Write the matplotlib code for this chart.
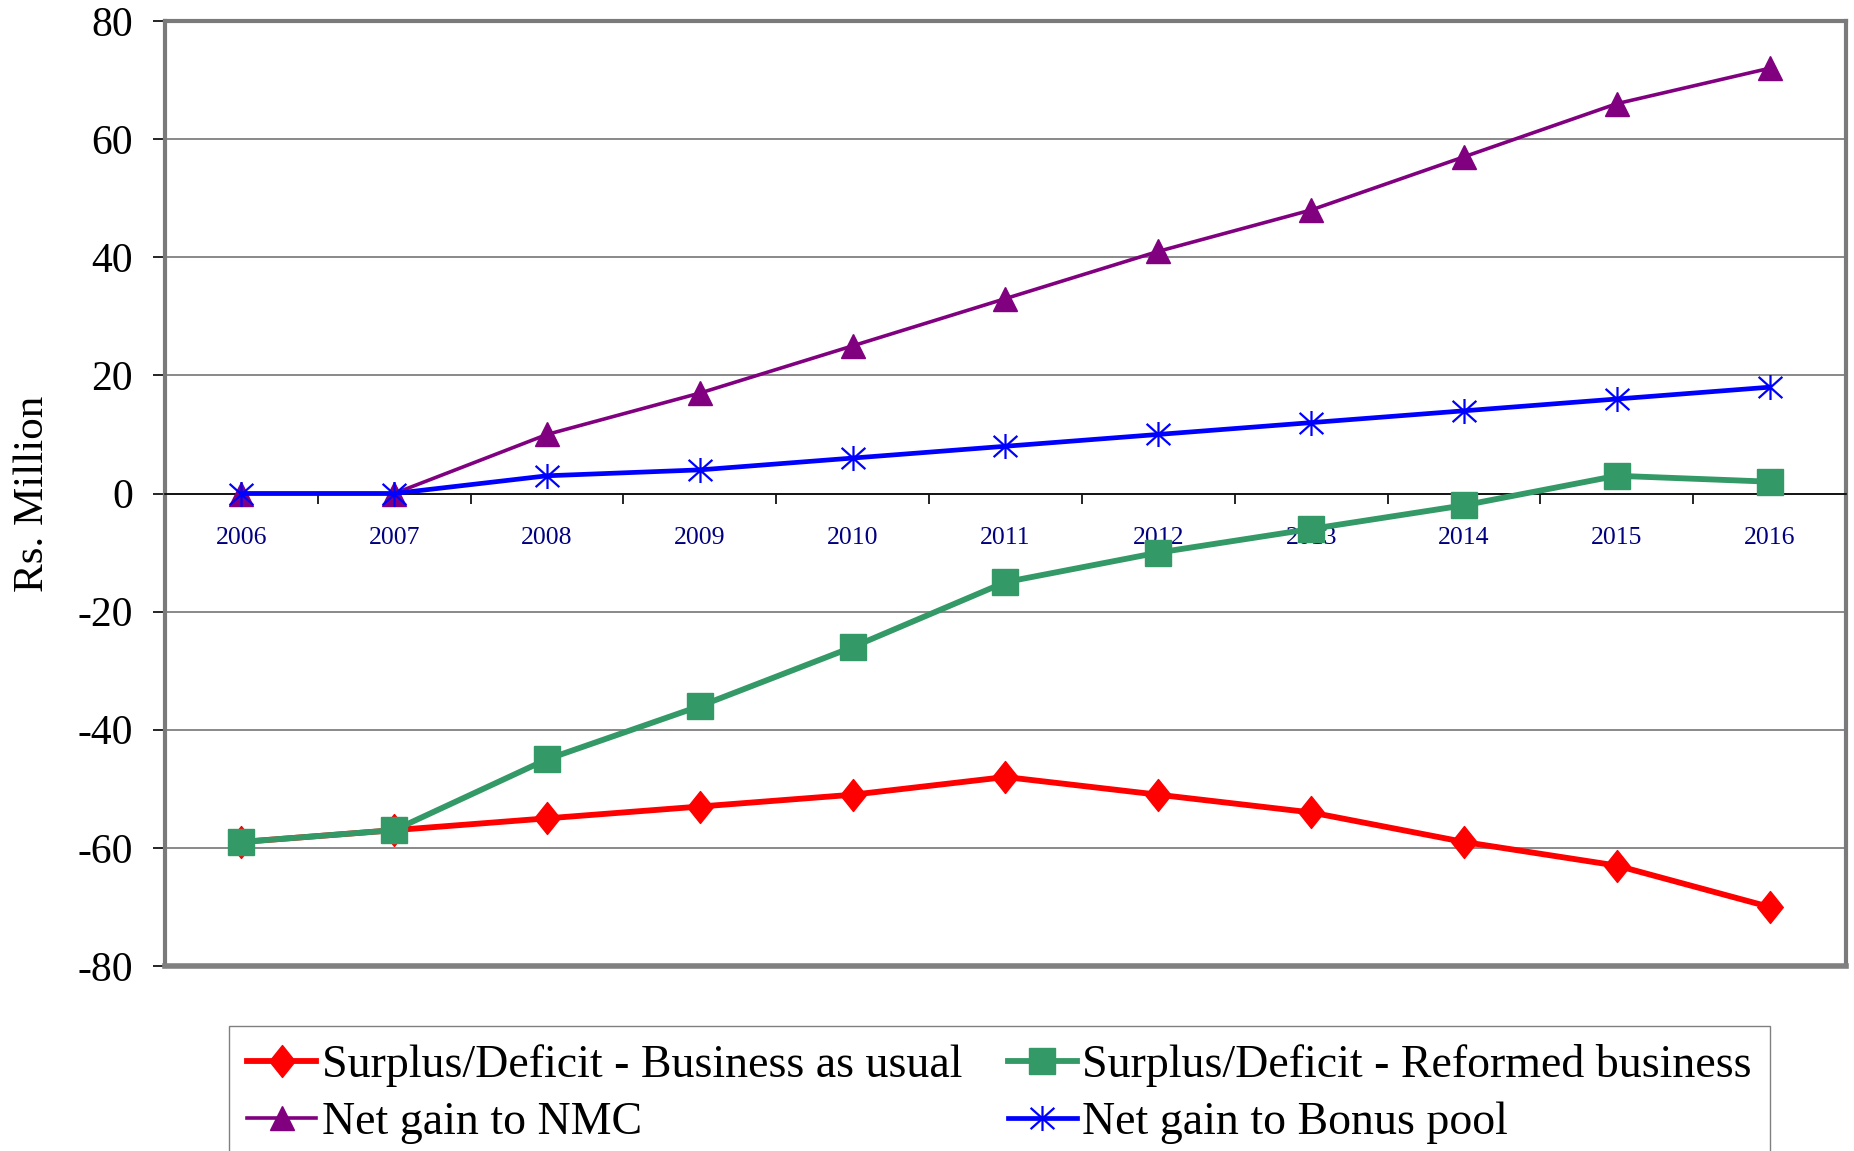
import matplotlib.pyplot as plt
import numpy as np
from matplotlib.path import Path

plt.rcParams['font.family'] = ['Liberation Serif', 'DejaVu Serif']
plt.rcParams['axes.unicode_minus'] = False

years = ['2006', '2007', '2008', '2009', '2010', '2011', '2012', '2013', '2014', '2015', '2016']
business_as_usual = [-59, -57, -55, -53, -51, -48, -51, -54, -59, -63, -70]
reformed = [-59, -57, -45, -36, -26, -15, -10, -6, -2, 3, 2]
gain_nmc = [0, 0, 10, 17, 25, 33, 41, 48, 57, 66, 72]
gain_bonus = [0, 0, 3, 4, 6, 8, 10, 12, 14, 16, 18]

labels = ['Surplus/Deficit - Business as usual', 'Surplus/Deficit - Reformed business',
          'Net gain to NMC', 'Net gain to Bonus pool']

# excel style markers
diamond = Path([(0, 1), (0.8, 0), (0, -1), (-0.8, 0), (0, 1)],
               [Path.MOVETO, Path.LINETO, Path.LINETO, Path.LINETO, Path.CLOSEPOLY])
star = Path([(0, -1), (0, 1), (-0.95, -0.85), (0.95, 0.85), (-0.95, 0.85), (0.95, -0.85)],
            [Path.MOVETO, Path.LINETO, Path.MOVETO, Path.LINETO, Path.MOVETO, Path.LINETO])

fig = plt.figure(figsize=(18.54, 11.51), dpi=100)
ax = fig.add_axes([165 / 1854, 1 - 966 / 1151, (1846 - 165) / 1854, (966 - 21) / 1151])

x = np.arange(len(years))
l1, = ax.plot(x, business_as_usual, color='#ff0000', lw=4.2, marker=diamond, ms=23,
              mec='#ff0000', zorder=3)
l2, = ax.plot(x, reformed, color='#339966', lw=4.2, marker='s', ms=19, mec='#339966', zorder=4)
l3, = ax.plot(x, gain_nmc, color='#800080', lw=2.6, marker='^', ms=17, mec='#800080', zorder=3)
l4, = ax.plot(x, gain_bonus, color='#0000ff', lw=3.4, marker=star, ms=18, mfc='none',
              mec='#0000ff', mew=1.6, zorder=5)

ax.set_xlim(-0.5, len(years) - 0.5)
ax.set_ylim(-80, 80)
ax.set_yticks(np.arange(-80, 81, 20))
ax.yaxis.grid(True, color='#808080', lw=1.3)
ax.set_axisbelow(True)

# category axis sits on zero
ax.spines['bottom'].set_position(('data', 0))
ax.spines['bottom'].set_color('black')
ax.spines['bottom'].set_linewidth(1.2)
for s in ['left', 'top', 'right']:
    ax.spines[s].set_color('#7a7a7a')
    ax.spines[s].set_linewidth(3)
ax.axhline(-80, color='#808080', lw=4, clip_on=False, zorder=2.6)

ax.set_xticks(np.arange(-0.5, len(years), 1))
ax.set_xticklabels([])
ax.set_xticks(x, minor=True)
ax.set_xticklabels(years, minor=True)
ax.tick_params(axis='x', which='major', direction='out', length=7, width=1.2, color='black')
ax.tick_params(axis='x', which='minor', length=0, pad=24, labelsize=18.5, labelcolor='#000080')
ax.tick_params(axis='y', direction='out', length=9, width=1.2, color='black', pad=14, labelsize=30)

ax.set_ylabel('Rs. Million', fontsize=31, labelpad=18)

# row-wise order like the excel legend
fig.legend([l1, l3, l2, l4], [labels[0], labels[2], labels[1], labels[3]], ncol=2, loc='upper left',
           bbox_to_anchor=(229 / 1854, 1 - 1026 / 1151), bbox_transform=fig.transFigure,
           fontsize=33, frameon=True, fancybox=False, edgecolor='#808080', framealpha=1,
           borderaxespad=0, borderpad=0.4, handlelength=1.5, handletextpad=0.12,
           labelspacing=0.3, columnspacing=1.0, numpoints=1)

plt.savefig('out.png', dpi=100)
